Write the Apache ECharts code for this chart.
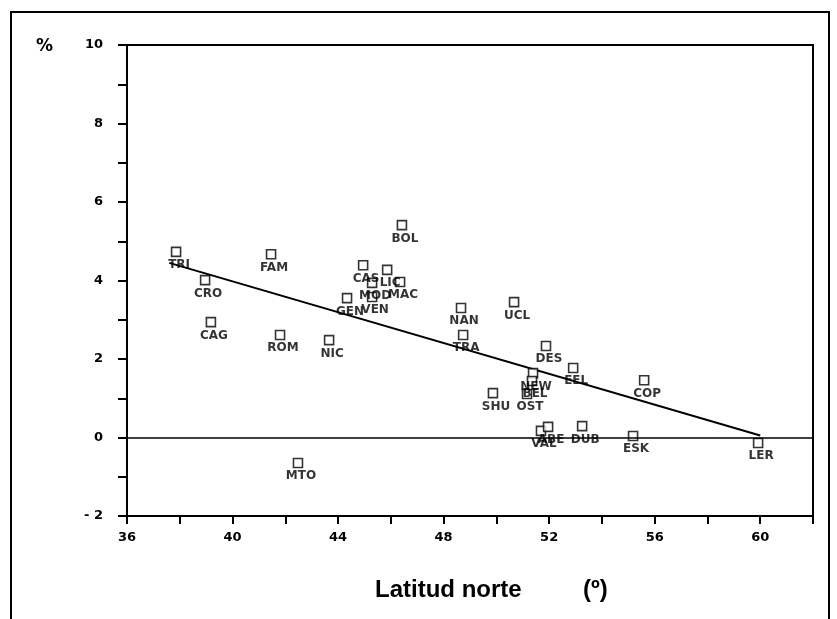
<!DOCTYPE html>
<html>
<head>
    <meta charset="utf-8">
    <script type="text/javascript" src="https://cdn.jsdelivr.net/npm/echarts@6/dist/echarts.min.js"></script>
</head>
<body style="margin:0;background:#fff">
    <div id="main" style="width: 837px;height:619px;"></div>
    <script type="text/javascript">
    // stations
    let names = ['TRI','CRO','CAG','FAM','ROM','MTO','NIC','CAS','LIC','MAC','MOD','GEN','VEN','BOL',
                 'NAN','TRA','UCL','DES','EEL','COP','NEW','BEL','SHU','OST','VAL','ABE','DUB','ESK','LER']
    let lat = [37.86, 38.96, 39.18, 41.46, 41.80, 42.48, 43.66, 44.95, 45.86, 46.35, 45.29, 44.34, 45.29, 46.42,
               48.66, 48.74, 50.67, 51.88, 52.91, 55.60, 51.39, 51.35, 49.87, 51.16, 51.69, 51.96, 53.25, 55.18, 59.92]
    let pct = [4.73, 4.01, 2.94, 4.67, 2.61, -0.65, 2.48, 4.39, 4.27, 3.96, 3.94, 3.55, 3.58, 5.41,
               3.30, 2.61, 3.45, 2.33, 1.77, 1.46, 1.64, 1.44, 1.13, 1.11, 0.17, 0.27, 0.29, 0.04, -0.14]
    // regression line ends
    let fitX = [37.6, 60.0]
    let fitY = [4.45, 0.05]

    let font = 'DejaVu Sans'
    var myChart = echarts.init(document.getElementById('main'));

    let points = names.map((n, i) => ({name: n, value: [lat[i], pct[i]]}))
    let fit = fitX.map((x, i) => [x, fitY[i]])

    option = {
        backgroundColor: '#fff',
        animation: false,
        grid: {
            left: 127, top: 45, right: 24, bottom: 103,
            show: true, borderColor: '#000', borderWidth: 2
        },
        xAxis: {
            type: 'value', min: 36, max: 62, interval: 2,
            axisLine: {onZero: false, lineStyle: {color: '#000', width: 2}},
            axisTick: {length: 8, lineStyle: {color: '#000', width: 2}},
            splitLine: {show: false},
            axisLabel: {
                color: '#000', fontFamily: font, fontWeight: 'bold', fontSize: 13, margin: 15,
                formatter: v => (v % 4 === 0 && v <= 60) ? String(v) : ''
            }
        },
        yAxis: {
            type: 'value', min: -2, max: 10, interval: 1,
            axisLine: {onZero: false, lineStyle: {color: '#000', width: 2}},
            axisTick: {length: 9, lineStyle: {color: '#000', width: 2}},
            splitLine: {show: false},
            axisLabel: {
                color: '#000', fontFamily: font, fontWeight: 'bold', fontSize: 13, margin: 24,
                formatter: v => v % 2 !== 0 ? '' : (v < 0 ? '- ' + Math.abs(v) : String(v))
            }
        },
        graphic: [
            {type: 'rect', shape: {x: 11, y: 12, width: 818, height: 700},
             style: {fill: 'none', stroke: '#000', lineWidth: 2}},
            {type: 'text', left: 36, top: 38,
             style: {text: '%', font: 'bold 17px ' + font, fill: '#000'}},
            {type: 'text', left: 375, top: 578,
             style: {text: 'Latitud norte', font: 'bold 24px Liberation Sans', fill: '#000'}},
            {type: 'text', left: 583, top: 578,
             style: {text: '(º)', font: 'bold 24px Liberation Sans', fill: '#000'}}
        ],
        series: [{
            name: 'fit',
            type: 'line',
            data: fit,
            showSymbol: false,
            lineStyle: {color: '#000', width: 2},
            z: 1
        }, {
            name: 'stations',
            type: 'scatter',
            data: points,
            symbol: 'rect',
            symbolSize: 9,
            itemStyle: {color: '#fff', borderColor: '#000', borderWidth: 1.6},
            label: {
                show: true, position: 'bottom', distance: 2, offset: [3, 0],
                formatter: p => p.name,
                color: '#000', fontFamily: font, fontWeight: 'bold', fontSize: 12
            },
            markLine: {
                silent: true, symbol: 'none',
                label: {show: false},
                lineStyle: {color: '#000', width: 1.6, type: 'solid'},
                data: [{yAxis: 0}]
            },
            z: 2
        }]
    };
    myChart.setOption(option);
    </script>
</body>
</html>
